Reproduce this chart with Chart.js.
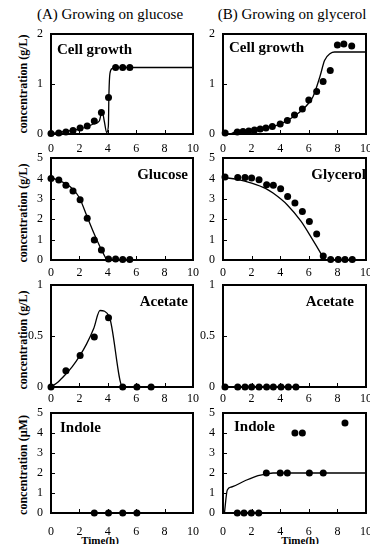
<!DOCTYPE html>
<html lang="en">
<head>
<meta charset="UTF-8">
<title>Growing on glucose / glycerol</title>
<script src="https://cdn.jsdelivr.net/npm/chart.js"></script>
<style>
  body { margin: 0; width: 370px; height: 544px; position: relative; background: #fff; overflow: hidden;
         font-family: "Liberation Serif", "Times New Roman", serif; color: #000; }
  canvas { position: absolute; left: 0; top: 0; }
  .header { position: absolute; top: 6px; font-size: 15px; white-space: nowrap; transform: translateX(-50%); }
  .ytitle { position: absolute; left: 23px; font-size: 12px; font-weight: bold; white-space: nowrap;
            transform: translate(-50%, -50%) rotate(-90deg); }
  .xtitle { position: absolute; top: 535px; font-size: 11px; line-height: 11px; font-weight: bold; white-space: nowrap; transform: translateX(-50%); }
</style>
</head>
<body>

<div class="header" style="left:110px">(A) Growing on glucose</div>
<div class="header" style="left:292px">(B) Growing on glycerol</div>

<div class="ytitle" style="top:84px">concentration (g/L)</div>
<div class="ytitle" style="top:213px">concentration (g/L)</div>
<div class="ytitle" style="top:340px">concentration (g/L)</div>
<div class="ytitle" style="top:465px">concentration (µM)</div>

<div class="xtitle" style="left:100px">Time(h)</div>
<div class="xtitle" style="left:300px">Time(h)</div>

<canvas id="c0" width="370" height="544"></canvas>
<canvas id="c1" width="370" height="544"></canvas>
<canvas id="c2" width="370" height="544"></canvas>
<canvas id="c3" width="370" height="544"></canvas>
<canvas id="c4" width="370" height="544"></canvas>
<canvas id="c5" width="370" height="544"></canvas>
<canvas id="c6" width="370" height="544"></canvas>
<canvas id="c7" width="370" height="544"></canvas>

<script>
// ---- (A) growing on glucose ----
var cellTimeA = [0, 0.55, 1.05, 1.55, 2.05, 2.55, 3.05, 3.55, 4.05, 4.55, 5.05, 5.55];
var cellA     = [0.01, 0.02, 0.04, 0.07, 0.12, 0.16, 0.26, 0.43, 0.73, 1.33, 1.33, 1.33];
var cellModelTimeA = [0, 1, 2, 2.5, 3, 3.4, 3.6, 3.75, 3.92, 4.04, 4.08, 4.15, 4.32, 4.5, 10];
var cellModelA     = [0.01, 0.05, 0.1, 0.14, 0.2, 0.26, 0.46, 0.26, 0.03, 0.16, 0.8, 1.21, 1.31, 1.33, 1.33];

var glucoseTime = [0, 0.55, 1.05, 1.55, 2.05, 2.55, 3.05, 3.55, 4.05, 4.55, 5.05, 5.55];
var glucose     = [4.0, 3.92, 3.67, 3.38, 2.95, 2.05, 0.98, 0.49, 0.05, 0.05, 0.02, 0.02];
var glucoseModelTime = [0, 0.5, 1, 1.5, 2, 2.5, 3, 3.45, 3.7, 3.9, 4, 10];
var glucoseModel     = [4.0, 3.93, 3.75, 3.5, 3.05, 2.2, 1.35, 0.65, 0.3, 0.04, 0, 0];

var acetateTimeA = [0, 1.05, 2.05, 3.05, 4.05, 5.05, 6.05, 7.05];
var acetateA     = [0, 0.16, 0.31, 0.49, 0.68, 0, 0, 0];
var acetateModelTimeA = [0, 0.5, 1, 1.5, 2, 2.5, 3, 3.45, 4.1, 5.05, 10];
var acetateModelA     = [0, 0.05, 0.12, 0.2, 0.3, 0.42, 0.57, 0.75, 0.69, 0, 0];

var indoleTimeA = [3.05, 4.05, 5.05, 6.05];
var indoleA     = [0, 0, 0, 0];

// ---- (B) growing on glycerol ----
var cellTimeB = [0.15, 1, 1.4, 1.8, 2.2, 2.6, 3, 3.45, 4, 4.5, 5, 5.55, 6, 6.55, 7, 7.5, 8, 8.45, 9];
var cellB     = [0.02, 0.04, 0.05, 0.06, 0.08, 0.1, 0.12, 0.15, 0.2, 0.27, 0.38, 0.5, 0.68, 0.85, 1.05, 1.27, 1.78, 1.8, 1.76];
var cellModelTimeB = [0, 0.15, 0.45, 0.9, 1.5, 2, 2.5, 3, 3.5, 4, 4.5, 5, 5.5, 6, 6.3, 6.8, 7.1, 7.5, 7.8, 10];
var cellModelB     = [0.05, 0.03, 0, 0.05, 0.06, 0.07, 0.09, 0.12, 0.15, 0.2, 0.27, 0.36, 0.47, 0.62, 0.75, 1.17, 1.47, 1.61, 1.64, 1.64];

var glycerolTime = [0.14, 1.03, 1.54, 2.0, 2.52, 3.05, 3.52, 4.03, 4.52, 5.03, 5.55, 6.04, 6.55, 7.01, 7.53, 8.06, 8.53, 9.04];
var glycerol     = [4.07, 4.05, 4.05, 4.02, 3.93, 3.69, 3.66, 3.49, 3.11, 2.79, 2.38, 1.89, 1.28, 0.2, 0.03, 0.03, 0.03, 0.03];
var glycerolModelTime = [0, 1, 2, 3, 3.5, 4.5, 5.45, 6.2, 6.9, 7.1, 10];
var glycerolModel     = [4.05, 3.95, 3.77, 3.5, 3.28, 2.7, 1.9, 1.07, 0.25, 0, 0];

var acetateTimeB = [0.14, 1.03, 1.54, 2.0, 2.52, 3.05, 3.52, 4.06, 4.57, 5.1];
var acetateB     = [0, 0, 0, 0, 0, 0, 0, 0, 0, 0];

var indoleTimeB = [1.0, 1.47, 1.98, 2.5, 3.03, 4.0, 4.5, 5.03, 5.55, 6.04, 7.01, 8.53];
var indoleB     = [0, 0, 0, 0, 2, 2, 2, 4, 4, 2, 2, 4.5];
var indoleModelTimeB = [0.1, 0.3, 0.6, 1.5, 2.45, 3.03, 3.5, 10];
var indoleModelB     = [0, 1.15, 1.3, 1.6, 1.87, 1.95, 2.0, 2.0];

var xTicksStep = 2;

// plot boxes (pixels)
var cols = { A: { left: 51, right: 193 }, B: { left: 223, right: 366 } };
var rows = [
    { top: 34, bottom: 134, xPad: 8 },
    { top: 158, bottom: 260, xPad: 6 },
    { top: 285, bottom: 387, xPad: 5 },
    { top: 413, bottom: 513, xPad: 12 }
];
var Y_AXIS_W = 40, X_AXIS_H = 30;

function toXY(xs, ys) {
    return xs.map(function (x, i) { return { x: x, y: ys[i] }; });
}

// black frame, small inward ticks and the panel name
var framePlugin = {
    id: 'frame',
    beforeDatasetsDraw: function (chart) {
        var ctx = chart.ctx, a = chart.chartArea;
        var sx = chart.scales.x, sy = chart.scales.y;
        ctx.save();
        ctx.strokeStyle = '#000';
        ctx.lineWidth = 1;
        ctx.beginPath();
        sx.ticks.forEach(function (t) {
            var px = Math.round(sx.getPixelForValue(t.value)) + 0.5;
            ctx.moveTo(px, a.bottom);
            ctx.lineTo(px, a.bottom - 4);
        });
        sy.ticks.forEach(function (t) {
            var py = Math.round(sy.getPixelForValue(t.value)) + 0.5;
            ctx.moveTo(a.left, py);
            ctx.lineTo(a.left + 4, py);
        });
        ctx.stroke();
        ctx.lineWidth = 2;
        ctx.strokeRect(a.left, a.top, a.right - a.left, a.bottom - a.top);
        ctx.restore();
    },
    afterDraw: function (chart, args, opts) {
        if (!opts.text) return;
        var ctx = chart.ctx, a = chart.chartArea;
        ctx.save();
        ctx.font = 'bold 15px "Liberation Serif", serif';
        ctx.fillStyle = '#000';
        ctx.textBaseline = 'middle';
        if (opts.align === 'right') {
            ctx.textAlign = 'right';
            ctx.fillText(opts.text, a.right + opts.dx, a.top + opts.dy);
        } else {
            ctx.textAlign = 'left';
            ctx.fillText(opts.text, a.left + opts.dx, a.top + opts.dy);
        }
        ctx.restore();
    }
};

function makePanel(canvasId, col, row, yMax, yStep, label, dots, model) {
    var c = cols[col], r = rows[row];
    var tickFont = { family: '"Liberation Serif", serif', size: 12 };
    var datasets = [];
    if (model) {
        datasets.push({
            data: model, showLine: true, pointRadius: 0, borderColor: '#000', borderWidth: 1.3,
            cubicInterpolationMode: 'monotone', fill: false
        });
    }
    datasets.push({
        data: dots, pointRadius: 3.5, backgroundColor: '#000', borderColor: '#000', borderWidth: 0, clip: false
    });

    new Chart(document.getElementById(canvasId), {
        type: 'scatter',
        data: { datasets: datasets },
        options: {
            responsive: false,
            animation: false,
            events: [],
            layout: {
                padding: {
                    left: c.left - Y_AXIS_W,
                    right: 370 - c.right,
                    top: r.top,
                    bottom: 544 - r.bottom - X_AXIS_H
                }
            },
            plugins: {
                legend: { display: false },
                tooltip: { enabled: false },
                frame: label
            },
            scales: {
                x: {
                    type: 'linear', min: 0, max: 10,
                    ticks: { stepSize: xTicksStep, font: tickFont, color: '#000', padding: r.xPad, maxRotation: 0 },
                    grid: { display: false, drawTicks: false },
                    border: { display: false },
                    afterFit: function (s) { s.height = X_AXIS_H; s.paddingLeft = 0; s.paddingRight = 0; }
                },
                y: {
                    type: 'linear', min: 0, max: yMax,
                    ticks: {
                        stepSize: yStep, font: tickFont, color: '#000', padding: 8,
                        callback: function (v) { return String(v); }
                    },
                    grid: { display: false, drawTicks: false },
                    border: { display: false },
                    afterFit: function (s) { s.width = Y_AXIS_W; s.paddingTop = 0; s.paddingBottom = 0; }
                }
            }
        },
        plugins: [framePlugin]
    });
}

makePanel('c0', 'A', 0, 2, 1, { text: 'Cell growth', align: 'left', dx: 6, dy: 16 },
    toXY(cellTimeA, cellA), toXY(cellModelTimeA, cellModelA));
makePanel('c1', 'B', 0, 2, 1, { text: 'Cell growth', align: 'left', dx: 6, dy: 14 },
    toXY(cellTimeB, cellB), toXY(cellModelTimeB, cellModelB));
makePanel('c2', 'A', 1, 5, 1, { text: 'Glucose', align: 'right', dx: -5, dy: 17 },
    toXY(glucoseTime, glucose), toXY(glucoseModelTime, glucoseModel));
makePanel('c3', 'B', 1, 5, 1, { text: 'Glycerol', align: 'right', dx: 0, dy: 17 },
    toXY(glycerolTime, glycerol), toXY(glycerolModelTime, glycerolModel));
makePanel('c4', 'A', 2, 1, 0.5, { text: 'Acetate', align: 'right', dx: -5, dy: 17 },
    toXY(acetateTimeA, acetateA), toXY(acetateModelTimeA, acetateModelA));
makePanel('c5', 'B', 2, 1, 0.5, { text: 'Acetate', align: 'right', dx: -12, dy: 17 },
    toXY(acetateTimeB, acetateB), null);
makePanel('c6', 'A', 3, 5, 1, { text: 'Indole', align: 'left', dx: 9, dy: 15 },
    toXY(indoleTimeA, indoleA), null);
makePanel('c7', 'B', 3, 5, 1, { text: 'Indole', align: 'left', dx: 11, dy: 14 },
    toXY(indoleTimeB, indoleB), toXY(indoleModelTimeB, indoleModelB));
</script>
</body>
</html>
